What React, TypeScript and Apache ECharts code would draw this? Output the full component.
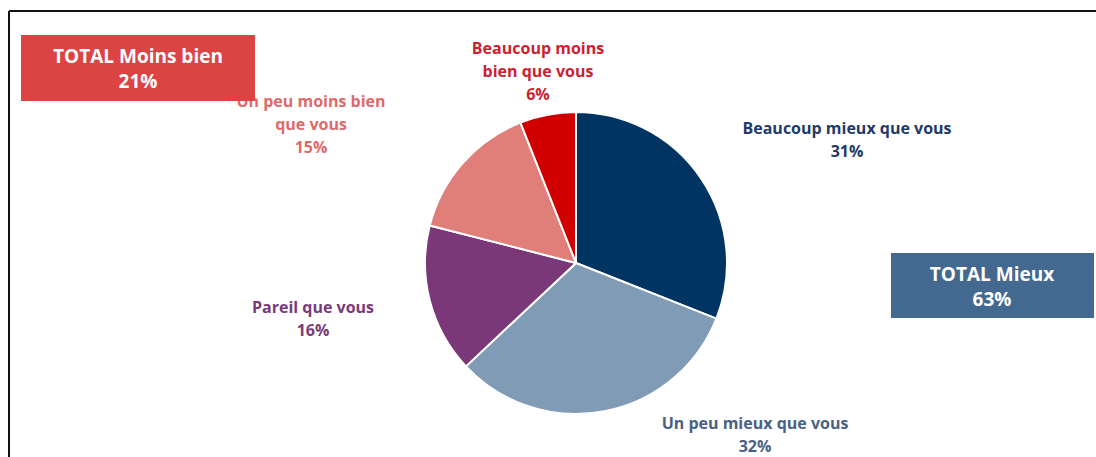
import React, { useEffect, useRef } from "react";
import * as echarts from "echarts";

const categories = [
  "Beaucoup mieux que vous",
  "Un peu mieux que vous",
  "Pareil que vous",
  "Un peu moins bien\nque vous",
  "Beaucoup moins\nbien que vous",
];
const values = [31, 32, 16, 15, 6];
const sliceColors = ["#003462", "#7f9bb5", "#7a3878", "#e07e7a", "#d00000"];
const labelColors = ["#1f3a6a", "#4a6184", "#7a3a7a", "#e06a6a", "#cc1f2f"];
const labelPos: [number, number][] = [
  [847, 139],
  [755, 434],
  [313, 318],
  [311, 124],
  [538, 71],
];
const totals = [
  { label: "TOTAL Moins bien", value: 21 },
  { label: "TOTAL Mieux", value: 63 },
];

const FONT = "'Open Sans', 'Noto Sans', sans-serif";

export default function App() {
  const ref = useRef<HTMLDivElement>(null);
  useEffect(() => {
    if (!ref.current) return;
    const chart = echarts.init(ref.current, null, { renderer: "svg" });
    chart.setOption({
      animation: false,
      backgroundColor: "#ffffff",
      graphic: [
        {
          type: "line",
          shape: { x1: 9, y1: 11, x2: 1096, y2: 11 },
          style: { stroke: "#111", lineWidth: 2 },
        },
        {
          type: "line",
          shape: { x1: 9, y1: 11, x2: 9, y2: 457 },
          style: { stroke: "#111", lineWidth: 2 },
        },
        {
          type: "rect",
          z: 10,
          shape: { x: 21, y: 35, width: 234, height: 66 },
          style: { fill: "#dc4444" },
        },
        {
          type: "text",
          z: 11,
          x: 138,
          y: 68,
          style: {
            text: `${totals[0].label}\n${totals[0].value}%`,
            fill: "#ffffff",
            font: `bold 19px ${FONT}`,
            lineHeight: 25,
            align: "center",
            verticalAlign: "middle",
          },
        },
        {
          type: "rect",
          z: 10,
          shape: { x: 891, y: 253, width: 203, height: 65 },
          style: { fill: "#436991" },
        },
        {
          type: "text",
          z: 11,
          x: 992,
          y: 286,
          style: {
            text: `${totals[1].label}\n${totals[1].value}%`,
            fill: "#ffffff",
            font: `bold 19px ${FONT}`,
            lineHeight: 25,
            align: "center",
            verticalAlign: "middle",
          },
        },
      ],
      series: [
        {
          type: "pie",
          center: [576, 263],
          radius: 151,
          startAngle: 90,
          clockwise: true,
          itemStyle: { borderColor: "#ffffff", borderWidth: 2 },
          labelLine: { show: false },
          label: {
            show: true,
            position: "outside",
            formatter: "{b}\n{c}%",
            fontFamily: FONT,
            fontWeight: "bold",
            fontSize: 16,
            lineHeight: 23,
            align: "center",
          },
          labelLayout: (p: any) => ({
            x: labelPos[p.dataIndex][0],
            y: labelPos[p.dataIndex][1],
            align: "center",
            verticalAlign: "middle",
          }),
          data: categories.map((name, i) => ({
            name,
            value: values[i],
            itemStyle: { color: sliceColors[i] },
            label: { color: labelColors[i] },
          })),
        },
      ],
    });
    return () => chart.dispose();
  }, []);
  return (
    <div
      ref={ref}
      style={{ position: "fixed", left: 0, top: 0, width: 1096, height: 457 }}
    />
  );
}
